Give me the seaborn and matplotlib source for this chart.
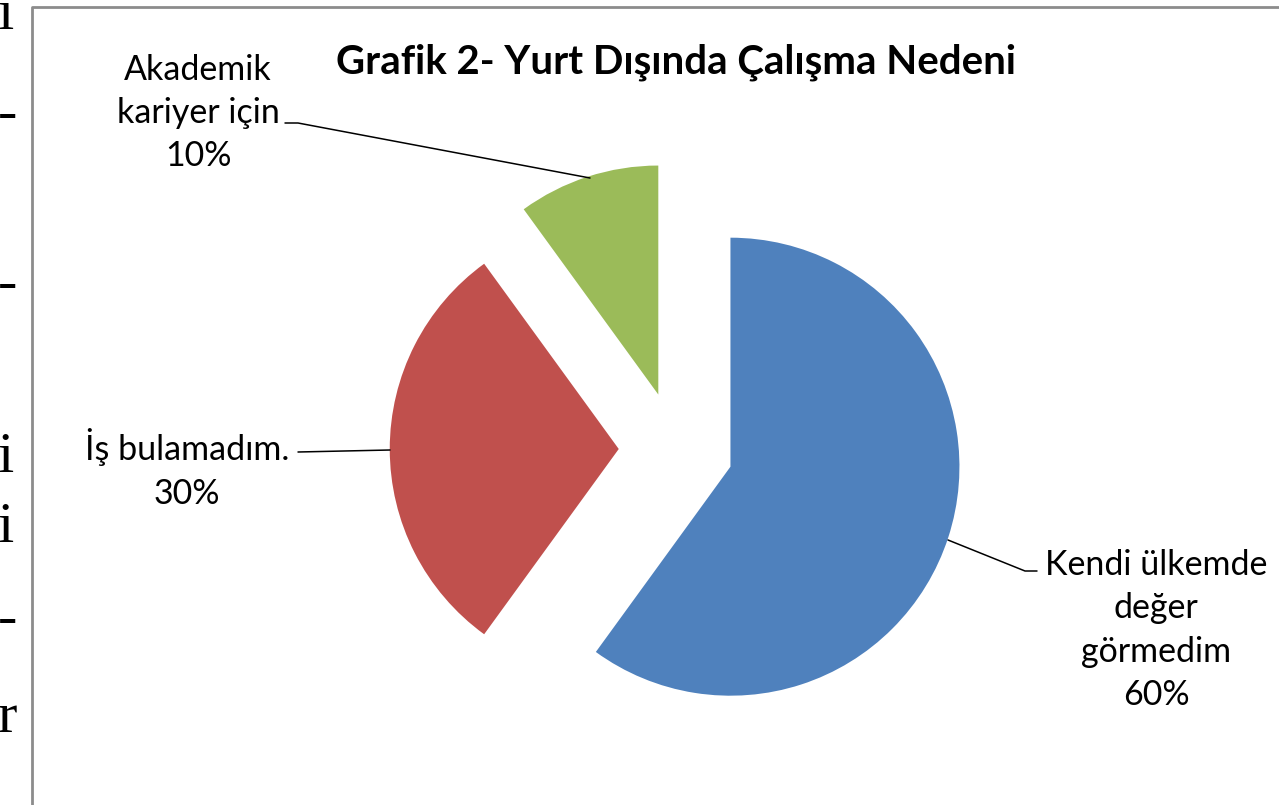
import matplotlib
matplotlib.use("Agg")
import matplotlib.pyplot as plt
import seaborn as sns

OUTPUT_PATH = "out.png"

# chart data
categories = ["Kendi ülkemde\ndeğer\ngörmedim", "İş bulamadım.", "Akademik\nkariyer için"]
shares = [60, 30, 10]
colors = ["#4F81BD", "#C0504D", "#9BBB59"]
title = "Grafik 2- Yurt Dışında Çalışma Nedeni"

# stray glyphs of the page text cut off at the left edge
margin_glyphs = ["i", "-", "-", "i", "i", "-", "r"]

# layout: pie centre and radius in pixels of the 1279x805 image
W, H = 1279, 805
CX, CY, R = 676, 449, 229


def px(x, y):
    # pixel position -> data position (pie radius = 1)
    return (x - CX) / R, (CY - y) / R


def main():
    sns.set_theme(style="white")
    plt.rcParams["font.family"] = ["Lato", "DejaVu Sans"]

    fig = plt.figure(figsize=(W / 100, H / 100), dpi=100)
    ax = fig.add_axes([0, 0, 1, 1])

    ax.pie(shares, colors=colors, startangle=90, counterclock=False,
           radius=1, explode=[0.25] * len(shares),
           wedgeprops=dict(linewidth=0))

    # pie() resets the limits, so set them afterwards
    ax.set_xlim(px(0, 0)[0], px(W, 0)[0])
    ax.set_ylim(px(0, H)[1], px(0, 0)[1])
    ax.set_aspect("equal")
    ax.axis("off")

    # data labels
    label_pos = [(1156, 630), (187, 469), (198, 113)]
    for cat, val, (x, y) in zip(categories, shares, label_pos):
        ax.text(*px(x, y), f"{cat}\n{val}%", ha="center", va="center",
                multialignment="center", fontsize=24.5, linespacing=1.43,
                color="black")

    # leader lines
    leaders = [
        [(1037, 571), (1025, 571), (948, 540)],
        [(298, 452), (390, 450)],
        [(285, 123), (298, 123), (590, 178)],
    ]
    for pts in leaders:
        xs, ys = zip(*[px(x, y) for x, y in pts])
        ax.plot(xs, ys, color="black", lw=1.1)

    ax.text(*px(676, 62), title, ha="center", va="center",
            fontsize=28.9, fontweight="bold", color="black")

    # chart frame (only top and left edges visible)
    fx, fy = zip(*[px(x, y) for x, y in [(32, H), (32, 7), (W, 7)]])
    ax.plot(fx, fy, color="#8c8c8c", lw=2, clip_on=False)

    rows = [15, 115, 285, 458, 528, 620, 718]
    for g, y in zip(margin_glyphs, rows):
        ax.text(*px(-2, y), g, ha="left", va="center", fontsize=42,
                family="Liberation Serif", color="black")

    fig.savefig(OUTPUT_PATH, dpi=100, facecolor="white")
    plt.close(fig)


if __name__ == "__main__":
    main()
